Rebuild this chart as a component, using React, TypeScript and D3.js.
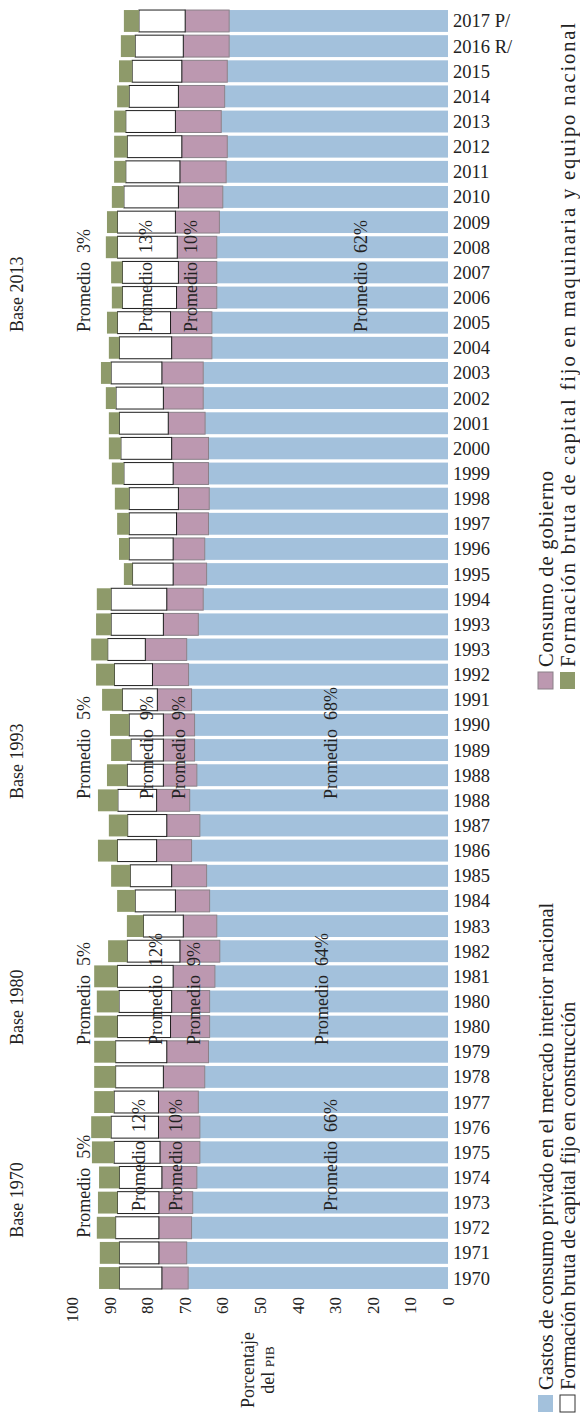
import React from 'react';
import * as d3 from 'd3';

// rows from top (2017) to bottom (1970); the source repeats 1993, 1988 and 1980 (base changes)
const years = [
  '2017 P/', '2016 R/', '2015', '2014', '2013', '2012', '2011', '2010', '2009', '2008',
  '2007', '2006', '2005', '2004', '2003', '2002', '2001', '2000', '1999', '1998',
  '1997', '1996', '1995', '1994', '1993', '1993', '1992', '1991', '1990', '1989',
  '1988', '1988', '1987', '1986', '1985', '1984', '1983', '1982', '1981', '1980',
  '1980', '1979', '1978', '1977', '1976', '1975', '1974', '1973', '1972', '1971', '1970',
];

// percent of GDP
const privado = [
  58.2, 58.2, 58.7, 59.4, 60.3, 58.7, 59.0, 59.9, 60.8, 61.5,
  61.5, 61.5, 62.8, 62.8, 65.1, 65.1, 64.6, 63.7, 63.7, 63.5,
  63.7, 64.7, 64.2, 65.1, 66.4, 69.5, 69.0, 68.2, 67.4, 67.4,
  66.8, 68.7, 66.0, 68.2, 64.2, 63.4, 61.5, 60.7, 62.0, 63.4,
  63.4, 63.7, 64.7, 66.4, 66.0, 66.0, 66.8, 67.9, 68.2, 69.5, 69.1,
];
const gobierno = [
  11.7, 12.2, 12.1, 12.3, 12.2, 12.1, 12.3, 11.8, 11.7, 10.5,
  10.2, 10.7, 11.0, 10.7, 11.0, 10.6, 9.8, 9.8, 9.4, 8.2,
  8.5, 8.4, 8.9, 9.7, 9.3, 11.0, 9.6, 9.1, 8.3, 8.3,
  8.9, 8.8, 8.8, 9.3, 9.3, 9.1, 8.9, 10.6, 11.1, 10.1,
  10.4, 11.1, 11.0, 10.6, 11.0, 10.6, 9.3, 9.0, 8.7, 7.4, 7.0,
];
const construccion = [
  12.3, 12.8, 13.2, 13.1, 13.2, 14.5, 14.4, 14.5, 15.4, 15.9,
  14.9, 14.4, 14.1, 13.9, 13.5, 12.6, 13.0, 13.5, 13.1, 13.1,
  12.6, 11.7, 10.8, 14.8, 13.9, 10.0, 10.1, 9.3, 9.1, 8.6,
  9.6, 10.3, 10.4, 10.4, 11.0, 10.7, 10.6, 14.0, 14.8, 14.0,
  14.1, 13.6, 12.7, 11.8, 12.6, 12.2, 11.3, 11.0, 11.5, 10.5, 11.3,
];
const maquinaria = [
  4.0, 3.8, 3.5, 3.2, 3.1, 3.5, 3.1, 3.2, 2.8, 3.1,
  3.0, 2.8, 2.8, 2.8, 2.7, 2.7, 2.8, 3.2, 3.2, 3.8,
  3.2, 2.7, 2.3, 3.8, 4.0, 4.4, 4.9, 5.4, 5.1, 5.3,
  5.4, 5.3, 5.0, 5.2, 5.1, 4.8, 4.4, 5.1, 6.2, 5.9,
  6.2, 5.7, 5.7, 5.3, 5.3, 5.9, 5.4, 5.2, 5.0, 5.2, 5.4,
];

const ticks = [0, 10, 20, 30, 40, 50, 60, 70, 80, 90, 100];

// period averages
const bases = ['Base 2013', 'Base 1993', 'Base 1980', 'Base 1970'];
const avgMaquinaria = [3, 5, 5, 5];
const avgConstruccion = [13, 9, 12, 12];
const avgGobierno = [10, 9, 9, 10];
const avgPrivado = [62, 68, 64, 66];

const series = [
  { key: 'privado', label: 'Gastos de consumo privado en el mercado interior nacional' },
  { key: 'gobierno', label: 'Consumo de gobierno' },
  { key: 'construccion', label: 'Formación bruta de capital fijo en construcción' },
  { key: 'maquinaria', label: 'Formación bruta de capital fijo en maquinaria y equipo nacional' },
];

const colors = {
  privado: '#a3c1dc',
  gobierno: '#bc98b0',
  construccion: '#ffffff',
  maquinaria: '#8e9a6a',
};
const strokes = {
  privado: 'none',
  gobierno: '#8a8088',
  construccion: '#1e1e1e',
  maquinaria: 'none',
};

// where the average labels sit (row where text starts, value where baseline sits)
const labelRow = [12.37, 30.95, 40.73, 47.33];
const sideRow = [12.37, 30.95, 40.73, 48.4];
const consAt = [78.8, 78.5, 76.1, 80.6];
const gobAt = [66.8, 69.9, 66.0, 70.7];
const privAt = [21.5, 29.6, 31.9, 29.5];

const W = 580;
const H = 1415;
const font = '"Liberation Serif", "DejaVu Serif", serif';
const ink = '#222';

export default function App() {
  const rows = years.map((y, i) => ({
    i,
    privado: privado[i],
    gobierno: gobierno[i],
    construccion: construccion[i],
    maquinaria: maquinaria[i],
  }));

  const stacked = d3.stack().keys(series.map((s) => s.key))(rows);

  const x = d3.scaleLinear().domain([0, 100]).range([448, 72]);
  const y = d3
    .scaleBand()
    .domain(d3.range(years.length))
    .range([8.4, 1290.6])
    .paddingInner(0.13)
    .paddingOuter(0.065);

  const rowY = (k) => y.range()[0] + y.step() * (k + 0.5);

  const rot = (tx, ty) => `translate(${tx},${ty}) rotate(-90)`;

  const legend = [
    { s: series[1], sx: 538, sy: 672, len: 196 },
    { s: series[3], sx: 560, sy: 672, len: 644 },
    { s: series[0], sx: 538, sy: 1395, len: null },
    { s: series[2], sx: 560, sy: 1395, len: null },
  ];

  return (
    <svg
      width={W}
      height={H}
      style={{ position: 'absolute', left: 0, top: 0, background: '#fff' }}
      fontFamily={font}
    >
      {stacked.map((layer) => (
        <g key={layer.key}>
          {layer.map((d, j) => (
            <rect
              key={j}
              x={x(d[1])}
              y={y(j)}
              width={x(d[0]) - x(d[1])}
              height={y.bandwidth()}
              fill={colors[layer.key]}
              stroke={strokes[layer.key]}
              strokeWidth={1}
            />
          ))}
        </g>
      ))}

      {years.map((yr, i) => (
        <text key={i} x={453} y={y(i) + y.bandwidth() / 2 + 6.5} fontSize={18.5} fill={ink}>
          {yr}
        </text>
      ))}

      {ticks.map((t) => (
        <text
          key={t}
          transform={rot(x(t), 1297)}
          textAnchor="end"
          dy="0.35em"
          fontSize={17}
          fill={ink}
        >
          {t}
        </text>
      ))}

      <text transform={rot(254, 1370)} textAnchor="middle" fontSize={18} fill={ink}>
        Porcentaje
      </text>
      <text transform={rot(274, 1370)} textAnchor="middle" fontSize={18} fill={ink}>
        del <tspan fontSize={13.5}>PIB</tspan>
      </text>

      {bases.map((b, g) => {
        const y0 = rowY(labelRow[g]);
        const y1 = rowY(sideRow[g]);
        return (
          <g key={b} fontSize={18} fill={ink}>
            <text transform={rot(23, y1)}>{b}</text>
            <text transform={rot(90, y1)} xmlSpace="preserve">
              {`Promedio  ${avgMaquinaria[g]}%`}
            </text>
            <text transform={rot(x(consAt[g]), y0)} xmlSpace="preserve">
              {`Promedio  ${avgConstruccion[g]}%`}
            </text>
            <text transform={rot(x(gobAt[g]), y0)} xmlSpace="preserve">
              {`Promedio  ${avgGobierno[g]}%`}
            </text>
            <text transform={rot(x(privAt[g]), y0)} xmlSpace="preserve">
              {`Promedio  ${avgPrivado[g]}%`}
            </text>
          </g>
        );
      })}

      {/* legend, two columns read bottom to top */}
      {legend.map(({ s, sx, sy, len }) => (
        <g key={s.key}>
          <rect
            x={sx}
            y={sy}
            width={15}
            height={17}
            fill={colors[s.key]}
            stroke={s.key === 'construccion' ? '#333' : s.key === 'gobierno' ? '#8a8088' : 'none'}
          />
          <text
            transform={rot(sx + 15, sy - 5)}
            fontSize={20.5}
            fill={ink}
            textLength={len || undefined}
          >
            {s.label}
          </text>
        </g>
      ))}
    </svg>
  );
}
